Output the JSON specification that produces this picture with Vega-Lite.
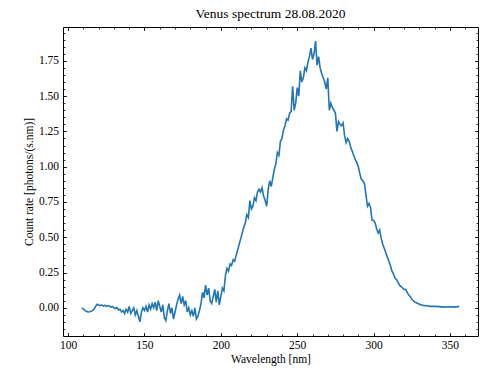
{
  "$schema": "https://vega.github.io/schema/vega-lite/v6.json",
  "width": 415,
  "height": 309,
  "autosize": "none",
  "padding": {"left": 63, "top": 27, "right": 2, "bottom": 32},
  "background": "white",
  "title": {"text": "Venus spectrum 28.08.2020", "fontSize": 13.5, "font": "Liberation Serif", "fontWeight": "normal", "color": "black", "offset": 6},
  "data": {"values": [
    {"wl":109,"c":0.0},{"wl":110,"c":-0.01},{"wl":111,"c":-0.02},{"wl":112,"c":-0.025},{"wl":113,"c":-0.03},{"wl":114,"c":-0.028},{"wl":115,"c":-0.025},{"wl":116,"c":-0.02},{"wl":117,"c":-0.01},{"wl":118,"c":0.01},{"wl":119,"c":0.025},{"wl":120,"c":0.02},{"wl":121,"c":0.015},{"wl":122,"c":0.02},{"wl":123,"c":0.012},{"wl":124,"c":0.018},{"wl":125,"c":0.01},{"wl":126,"c":0.016},{"wl":127,"c":0.012},{"wl":128,"c":0.005},{"wl":129,"c":0.01},{"wl":130,"c":0.0},{"wl":131,"c":-0.005},{"wl":132,"c":0.002},{"wl":133,"c":-0.015},{"wl":134,"c":-0.01},{"wl":135,"c":-0.03},{"wl":136,"c":-0.02},{"wl":137,"c":-0.04},{"wl":138,"c":-0.01},{"wl":139,"c":-0.03},{"wl":140,"c":0.01},{"wl":141,"c":-0.04},{"wl":142,"c":-0.02},{"wl":143,"c":0.0},{"wl":144,"c":-0.05},{"wl":145,"c":-0.02},{"wl":146,"c":-0.06},{"wl":147,"c":-0.1},{"wl":148,"c":-0.03},{"wl":149,"c":0.0},{"wl":150,"c":-0.02},{"wl":151,"c":0.01},{"wl":152,"c":-0.03},{"wl":153,"c":0.02},{"wl":154,"c":-0.01},{"wl":155,"c":0.03},{"wl":156,"c":0.0},{"wl":157,"c":0.04},{"wl":158,"c":-0.02},{"wl":159,"c":0.05},{"wl":160,"c":0.01},{"wl":161,"c":-0.03},{"wl":162,"c":0.02},{"wl":163,"c":-0.07},{"wl":164,"c":-0.09},{"wl":165,"c":-0.02},{"wl":166,"c":0.03},{"wl":167,"c":-0.04},{"wl":168,"c":0.0},{"wl":169,"c":-0.08},{"wl":170,"c":-0.03},{"wl":171,"c":0.02},{"wl":172,"c":0.06},{"wl":173,"c":0.09},{"wl":174,"c":0.03},{"wl":175,"c":0.08},{"wl":176,"c":0.02},{"wl":177,"c":0.05},{"wl":178,"c":-0.03},{"wl":179,"c":0.0},{"wl":180,"c":-0.05},{"wl":181,"c":-0.02},{"wl":182,"c":-0.06},{"wl":183,"c":0.0},{"wl":184,"c":-0.08},{"wl":185,"c":-0.06},{"wl":186,"c":-0.02},{"wl":187,"c":0.03},{"wl":188,"c":0.11},{"wl":189,"c":0.07},{"wl":190,"c":0.16},{"wl":191,"c":0.09},{"wl":192,"c":0.14},{"wl":193,"c":0.05},{"wl":194,"c":0.03},{"wl":195,"c":0.08},{"wl":196,"c":0.13},{"wl":197,"c":0.04},{"wl":198,"c":0.12},{"wl":199,"c":0.02},{"wl":200,"c":0.08},{"wl":201,"c":0.14},{"wl":202,"c":0.12},{"wl":203,"c":0.23},{"wl":204,"c":0.28},{"wl":205,"c":0.26},{"wl":206,"c":0.31},{"wl":207,"c":0.3},{"wl":208,"c":0.34},{"wl":209,"c":0.33},{"wl":210,"c":0.37},{"wl":211,"c":0.41},{"wl":212,"c":0.45},{"wl":213,"c":0.49},{"wl":214,"c":0.53},{"wl":215,"c":0.57},{"wl":216,"c":0.6},{"wl":217,"c":0.66},{"wl":218,"c":0.64},{"wl":219,"c":0.76},{"wl":220,"c":0.7},{"wl":221,"c":0.72},{"wl":222,"c":0.78},{"wl":223,"c":0.76},{"wl":224,"c":0.82},{"wl":225,"c":0.84},{"wl":226,"c":0.82},{"wl":227,"c":0.85},{"wl":228,"c":0.79},{"wl":229,"c":0.76},{"wl":230,"c":0.72},{"wl":231,"c":0.84},{"wl":232,"c":0.9},{"wl":233,"c":0.86},{"wl":234,"c":0.92},{"wl":235,"c":0.98},{"wl":236,"c":1.02},{"wl":237,"c":1.1},{"wl":238,"c":1.08},{"wl":239,"c":1.18},{"wl":240,"c":1.2},{"wl":241,"c":1.26},{"wl":242,"c":1.29},{"wl":243,"c":1.34},{"wl":244,"c":1.33},{"wl":245,"c":1.38},{"wl":246,"c":1.39},{"wl":247,"c":1.57},{"wl":248,"c":1.4},{"wl":249,"c":1.45},{"wl":250,"c":1.56},{"wl":251,"c":1.5},{"wl":252,"c":1.68},{"wl":253,"c":1.6},{"wl":254,"c":1.63},{"wl":255,"c":1.7},{"wl":256,"c":1.68},{"wl":257,"c":1.74},{"wl":258,"c":1.78},{"wl":259,"c":1.84},{"wl":260,"c":1.76},{"wl":261,"c":1.8},{"wl":262,"c":1.89},{"wl":263,"c":1.72},{"wl":264,"c":1.78},{"wl":265,"c":1.7},{"wl":266,"c":1.66},{"wl":267,"c":1.63},{"wl":268,"c":1.6},{"wl":269,"c":1.55},{"wl":270,"c":1.63},{"wl":271,"c":1.4},{"wl":272,"c":1.45},{"wl":273,"c":1.42},{"wl":274,"c":1.4},{"wl":275,"c":1.38},{"wl":276,"c":1.25},{"wl":277,"c":1.32},{"wl":278,"c":1.3},{"wl":279,"c":1.29},{"wl":280,"c":1.31},{"wl":281,"c":1.22},{"wl":282,"c":1.17},{"wl":283,"c":1.2},{"wl":284,"c":1.18},{"wl":285,"c":1.14},{"wl":286,"c":1.11},{"wl":287,"c":1.08},{"wl":288,"c":1.05},{"wl":289,"c":1.03},{"wl":290,"c":1.0},{"wl":291,"c":0.95},{"wl":292,"c":0.91},{"wl":293,"c":0.9},{"wl":294,"c":0.88},{"wl":295,"c":0.8},{"wl":296,"c":0.72},{"wl":297,"c":0.74},{"wl":298,"c":0.71},{"wl":299,"c":0.62},{"wl":300,"c":0.62},{"wl":301,"c":0.6},{"wl":302,"c":0.56},{"wl":303,"c":0.53},{"wl":304,"c":0.55},{"wl":305,"c":0.49},{"wl":306,"c":0.45},{"wl":307,"c":0.42},{"wl":308,"c":0.39},{"wl":309,"c":0.36},{"wl":310,"c":0.33},{"wl":311,"c":0.3},{"wl":312,"c":0.26},{"wl":313,"c":0.24},{"wl":314,"c":0.21},{"wl":315,"c":0.2},{"wl":316,"c":0.18},{"wl":317,"c":0.16},{"wl":318,"c":0.15},{"wl":319,"c":0.14},{"wl":320,"c":0.13},{"wl":321,"c":0.13},{"wl":322,"c":0.11},{"wl":323,"c":0.09},{"wl":324,"c":0.08},{"wl":325,"c":0.06},{"wl":326,"c":0.05},{"wl":327,"c":0.04},{"wl":328,"c":0.035},{"wl":329,"c":0.03},{"wl":330,"c":0.025},{"wl":331,"c":0.02},{"wl":332,"c":0.02},{"wl":333,"c":0.015},{"wl":335,"c":0.014},{"wl":337,"c":0.01},{"wl":340,"c":0.01},{"wl":343,"c":0.008},{"wl":346,"c":0.005},{"wl":350,"c":0.007},{"wl":353,"c":0.005},{"wl":356,"c":0.01}
  ]},
  "layer": [
    {
      "mark": {"type": "line", "color": "#1f77b4", "strokeWidth": 1.6, "clip": true},
      "encoding": {
        "x": {"field": "wl", "type": "quantitative", "scale": {"domain": [96.65, 368.35], "nice": false, "zero": false},
              "axis": {"orient": "bottom", "values": [100,150,200,250,300,350], "title": "Wavelength [nm]", "tickSize": -3.5, "labelPadding": 7, "titlePadding": 2}},
        "y": {"field": "c", "type": "quantitative", "scale": {"domain": [-0.2, 1.99], "nice": false, "zero": false},
              "axis": {"orient": "left", "values": [0,0.25,0.5,0.75,1,1.25,1.5,1.75], "format": ".2f", "title": "Count rate [photons/(s.nm)]", "tickSize": -3.5, "labelPadding": 8, "titlePadding": 4}}
      }
    },
    {
      "mark": {"type": "line", "opacity": 0},
      "encoding": {
        "x": {"field": "wl", "type": "quantitative", "scale": {"domain": [96.65, 368.35], "nice": false, "zero": false},
              "axis": {"orient": "top", "values": [100,150,200,250,300,350], "title": null, "labels": false, "tickSize": -3.5}},
        "y": {"field": "c", "type": "quantitative", "scale": {"domain": [-0.2, 1.99], "nice": false, "zero": false},
              "axis": {"orient": "right", "values": [0,0.25,0.5,0.75,1,1.25,1.5,1.75], "title": null, "labels": false, "tickSize": -3.5}}
      }
    },
    {
      "mark": {"type": "line", "opacity": 0},
      "encoding": {
        "x": {"field": "wl", "type": "quantitative", "scale": {"domain": [96.65, 368.35], "nice": false, "zero": false},
              "axis": {"orient": "bottom", "values": [100,110,120,130,140,150,160,170,180,190,200,210,220,230,240,250,260,270,280,290,300,310,320,330,340,350,360], "title": null, "labels": false, "tickSize": -2}},
        "y": {"field": "c", "type": "quantitative", "scale": {"domain": [-0.2, 1.99], "nice": false, "zero": false},
              "axis": {"orient": "left", "values": [-0.15,-0.1,-0.05,0,0.05,0.1,0.15,0.2,0.25,0.3,0.35,0.4,0.45,0.5,0.55,0.6,0.65,0.7,0.75,0.8,0.85,0.9,0.95,1,1.05,1.1,1.15,1.2,1.25,1.3,1.35,1.4,1.45,1.5,1.55,1.6,1.65,1.7,1.75,1.8,1.85,1.9,1.95], "title": null, "labels": false, "tickSize": -2}}
      }
    },
    {
      "mark": {"type": "line", "opacity": 0},
      "encoding": {
        "x": {"field": "wl", "type": "quantitative", "scale": {"domain": [96.65, 368.35], "nice": false, "zero": false},
              "axis": {"orient": "top", "values": [100,110,120,130,140,150,160,170,180,190,200,210,220,230,240,250,260,270,280,290,300,310,320,330,340,350,360], "title": null, "labels": false, "tickSize": -2}},
        "y": {"field": "c", "type": "quantitative", "scale": {"domain": [-0.2, 1.99], "nice": false, "zero": false},
              "axis": {"orient": "right", "values": [-0.15,-0.1,-0.05,0,0.05,0.1,0.15,0.2,0.25,0.3,0.35,0.4,0.45,0.5,0.55,0.6,0.65,0.7,0.75,0.8,0.85,0.9,0.95,1,1.05,1.1,1.15,1.2,1.25,1.3,1.35,1.4,1.45,1.5,1.55,1.6,1.65,1.7,1.75,1.8,1.85,1.9,1.95], "title": null, "labels": false, "tickSize": -2}}
      }
    }
  ],
  "resolve": {"axis": {"x": "independent", "y": "independent"}},
  "config": {
    "font": "Liberation Serif",
    "view": {"stroke": "black", "strokeWidth": 1},
    "axis": {"grid": false, "domain": false, "ticks": true, "tickColor": "black", "tickWidth": 0.8,
             "labelFont": "Liberation Serif", "labelFontSize": 11.5, "labelColor": "black",
             "titleFont": "Liberation Serif", "titleFontSize": 11.5, "titleFontWeight": "normal", "titleColor": "black", "labelFlush": false, "labelOverlap": false}
  }
}
